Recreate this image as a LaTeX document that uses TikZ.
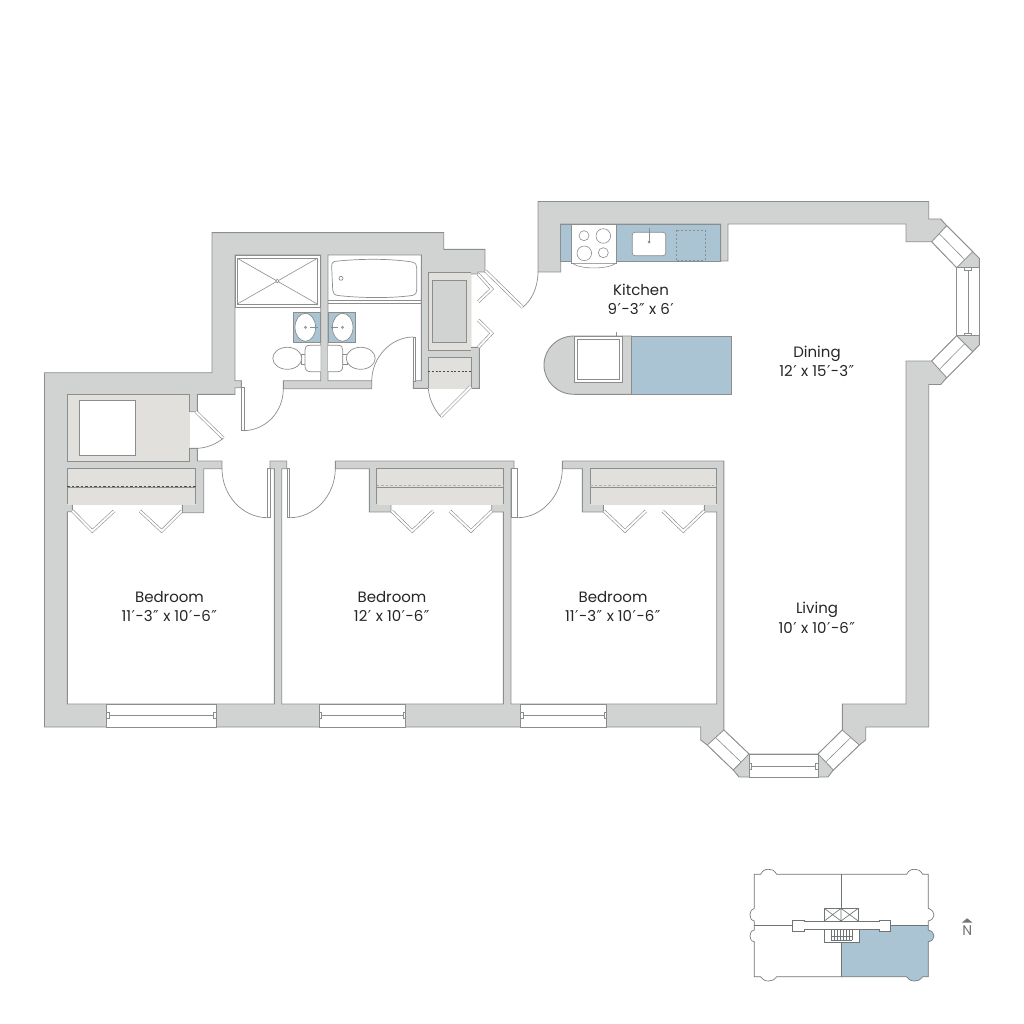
\documentclass[tikz,border=0pt]{standalone}
\usepackage{fontspec}
\setmainfont{Poppins}
\newfontfamily\primefont{DejaVu Sans}
\newcommand{\fta}{\kern0.5pt{\primefont\char"2032}\kern0.5pt}
\newcommand{\inc}{\kern0.5pt{\primefont\char"2033}\kern0.5pt}
\definecolor{wallc}{HTML}{D1D3D2}
\definecolor{linec}{HTML}{8C8E8D}
\definecolor{bluec}{HTML}{ABC4D3}
\definecolor{closetc}{HTML}{E1E0DC}
\definecolor{keyc}{HTML}{6F7475}
\tikzset{
 ln/.style={draw=linec,line width=0.9pt,line join=miter},
 thin ln/.style={draw=linec,line width=0.6pt},
 arcln/.style={draw=linec,line width=0.7pt},
 leaf/.style={draw=linec,double=white,double distance=2pt,line width=0.6pt},
 win/.style={fill=white,draw=linec,line width=0.8pt},
 fix/.style={fill=white,draw=linec,line width=0.7pt},
 keyln/.style={draw=keyc,line width=0.65pt},
 label/.style={font=\fontsize{15}{19.5}\selectfont,text=black!85,align=center,inner sep=0pt}
}
\def\outerp{(538,272) -- (538,201.5) -- (928.7,201.5) -- (928.7,219) -- (940.7,219) -- (946.7,225.7) -- (972.7,251.7) -- (979.3,258.3) -- (979.3,345) -- (972.7,351.7) -- (946.7,377.7) -- (940.7,384.5) -- (928.7,384.5) -- (928.7,727) -- (865.7,727) -- (865.7,740) -- (859.3,745) -- (833.3,770) -- (828,777) -- (739,777) -- (733.3,770) -- (707.3,745) -- (700.7,740) -- (700.7,727) -- (44.5,727) -- (44.5,372.7) -- (212,372.7) -- (212,232.7) -- (443.7,232.7) -- (443.7,249.3) -- (485,249.3) -- (485,272)}
\def\innerp{(538,272) -- (560.7,272) -- (560.7,224) -- (720.7,224) -- (720.7,261) -- (728,261) -- (728,224) -- (906,224) -- (906,241.7) -- (931.7,241.7) -- (956.7,267.7) -- (956.7,335.7) -- (931.7,361) -- (906,361) -- (906,704) -- (842.3,704) -- (842.3,730) -- (818,754) -- (749,754) -- (723.8,730) -- (723.8,461) -- (562.3,461) -- (562.3,468.7) -- (582.3,468.7) -- (582.3,512) -- (603.3,512) -- (603.3,504.3) -- (704.3,504.3) -- (704.3,512) -- (716.7,512) -- (716.7,704) -- (511,704) -- (511,468.7) -- (514,468.7) -- (514,461) -- (335.3,461) -- (335.3,468.7) -- (369.3,468.7) -- (369.3,512) -- (391,512) -- (391,504.3) -- (491.7,504.3) -- (491.7,512) -- (503.3,512) -- (503.3,704) -- (281.7,704) -- (281.7,468.7) -- (286.7,468.7) -- (286.7,461) -- (270,461) -- (270,468.7) -- (274.3,468.7) -- (274.3,704) -- (67.3,704) -- (67.3,511.7) -- (72.3,511.7) -- (72.3,504.3) -- (182.3,504.3) -- (182.3,512.7) -- (203.7,512.7) -- (203.7,468.7) -- (222,468.7) -- (222,461) -- (197.3,461) -- (197.3,448.3) -- (189.3,448.3) -- (189.3,411.7) -- (197.3,411.7) -- (197.3,394.3) -- (235,394.3) -- (235,387.7) -- (241.3,387.7) -- (241.3,380.7) -- (235,380.7) -- (235,255) -- (320.7,255) -- (320.7,380.7) -- (283.3,380.7) -- (283.3,388.7) -- (371.7,388.7) -- (371.7,380.7) -- (328,380.7) -- (328,255) -- (421.3,255) -- (421.3,380.7) -- (413.3,380.7) -- (413.3,388.3) -- (479.3,388.3) -- (479.3,347.3) -- (470.7,347.3) -- (470.7,274) -- (478,274) -- (478,272) -- (485,272)}
\def\keyp{(754.3,874.3) -- (760.7,874.3) .. controls (763,870) and (765,869.3) .. (768.7,869.3) .. controls (772,869.3) and (774,870) .. (776.7,874.3) -- (906.7,874.3) .. controls (909,870) and (911,869.3) .. (914.7,869.3) .. controls (918,869.3) and (920,870) .. (922.7,874.3) -- (928.3,874.3) -- (928.3,908.3) .. controls (932,910) and (934,912) .. (934,914.7) .. controls (934,918) and (932,920) .. (928.3,921) -- (928.3,930) .. controls (932,931) and (934,933) .. (934,936) .. controls (934,939) and (932,941) .. (928.3,941.7) -- (928.3,976.7) -- (922.7,976.7) .. controls (920,980) and (918,981) .. (914.7,981) .. controls (911,981) and (909,980) .. (906.7,976.7) -- (776.7,976.7) .. controls (774,980) and (772,981) .. (768.7,981) .. controls (765,981) and (763,980) .. (760.7,976.7) -- (754.3,976.7) -- (754.3,941.7) .. controls (751,941) and (750,939) .. (750,936) .. controls (750,933) and (751,931) .. (754.3,930) -- (754.3,921) .. controls (751,920) and (750,918) .. (750,914.7) .. controls (750,912) and (751,910) .. (754.3,908.3) -- cycle}
\begin{document}
\begin{tikzpicture}[x=1pt,y=-1pt]
\useasboundingbox (0,0) rectangle (1024,1024);
\fill[white] (0,0) rectangle (1024,1024);
% walls
\fill[wallc] \outerp -- cycle;
\fill[white] \innerp -- cycle;
\draw[ln] \outerp;
\draw[ln] \innerp;
% closets
\fill[closetc] (67.3,394.3) rectangle (189.8,461);
\draw[ln] (189.3,411.7) -- (189.3,394.3) -- (67.3,394.3) -- (67.3,461) -- (189.3,461) -- (189.3,448.3);
\draw[fix] (79.3,400.7) rectangle (135,455.7);
\fill[closetc] (67.3,468.7) rectangle (195.7,504.9);
\draw[ln] (67.3,504.3) -- (67.3,468.7) -- (195.7,468.7) -- (195.7,504.3);
\draw[draw=black!70,line width=0.8pt,dashed,dash pattern=on 2.5pt off 2pt] (67.3,486) -- (195.7,486);
\draw[thin ln] (67.3,487.7) -- (195.7,487.7);
\fill[closetc] (376.7,468.7) rectangle (503.3,504.9);
\draw[ln] (376.7,504.3) -- (376.7,468.7) -- (503.3,468.7) -- (503.3,504.3);
\draw[draw=linec!70,line width=0.5pt,dashed,dash pattern=on 2.5pt off 2pt] (376.7,485) -- (503.3,485);
\draw[thin ln] (376.7,487) -- (503.3,487);
\fill[closetc] (590,468.7) rectangle (716.7,504.9);
\draw[ln] (590,504.3) -- (590,468.7) -- (716.7,468.7) -- (716.7,504.3);
\draw[draw=linec!70,line width=0.5pt,dashed,dash pattern=on 2.5pt off 2pt] (590,485) -- (716.7,485);
\draw[thin ln] (590,487) -- (716.7,487);
\fill[closetc] (428.3,272.3) rectangle (471,350);
\draw[ln] (471,272.3) -- (428.3,272.3) -- (428.3,350) -- (471,350);
\fill[wallc,draw=linec,line width=0.8pt] (432.7,280) rectangle (466.7,342.3);
\fill[closetc] (428.3,357.7) rectangle (471.7,389);
\draw[ln] (428.3,388.3) -- (428.3,357.7) -- (471.7,357.7) -- (471.7,388.3);
\draw[draw=black!70,line width=0.6pt,dashed,dash pattern=on 2pt off 1.7pt] (428.3,371) -- (471.7,371);
% closet doors
\draw[leaf] (72.3,510.7) -- (92.3,531) -- (114,511);
\draw[leaf] (140,511) -- (161.7,531) -- (181.7,511);
\draw[leaf] (391.7,511) -- (412.3,531) -- (433.3,511);
\draw[leaf] (450,511) -- (471,531) -- (491.7,511);
\draw[leaf] (604,511) -- (625,531) -- (645.7,511);
\draw[leaf] (662.7,511) -- (683.3,531) -- (704.3,511);
\draw[leaf] (478.3,274.3) -- (491.7,289) -- (478.3,301.7);
\draw[leaf] (478.3,320) -- (491.7,333.3) -- (478.3,347.3);
% swing doors
\draw[leaf] (485.5,271) -- (522.7,307.3);
\draw[arcln] (522.7,307.3) .. controls (531,301) and (538,288) .. (538,272);
\draw[leaf] (470.7,386.7) -- (440.7,416.7);
\draw[arcln] (428.3,388.3) .. controls (429,399) and (434,409) .. (440.7,416.7);
\draw[leaf] (196,411.7) -- (223.3,438.3);
\draw[arcln] (223.3,438.3) .. controls (216,444) and (207,448) .. (197.3,448.3);
\draw[thin ln,fill=white] (241.7,387.7) rectangle (243.9,430.7);
\draw[arcln] (243.9,430.7) .. controls (266,430) and (283.3,412) .. (283.3,388.7);
\draw[thin ln,fill=white] (413.3,337) rectangle (415,381);
\draw[arcln] (413.3,337) .. controls (391,337) and (372,357) .. (371.7,381);
\draw[thin ln,fill=white] (267.7,468.7) rectangle (270.7,517.7);
\draw[arcln] (222,468.7) .. controls (222,495) and (242,517.7) .. (267.7,517.7);
\draw[thin ln,fill=white] (287.3,468.7) rectangle (289.7,517.7);
\draw[arcln] (335.3,468.7) .. controls (335.3,495) and (315,517.7) .. (289.7,517.7);
\draw[thin ln,fill=white] (511,468.7) rectangle (517.5,517.7);
\draw[arcln] (562.3,468.7) .. controls (562.3,495) and (542,517.7) .. (517.5,517.7);
% windows
\draw[win] (106.7,704) rectangle (216,727);
\draw[thin ln] (106.7,715) -- (216,715);
\draw[thin ln,fill=white] (106.7,712) rectangle (109,718) (213.6,712) rectangle (216,718);
\draw[win] (319.3,704) rectangle (405.3,727);
\draw[thin ln] (319.3,715) -- (405.3,715);
\draw[thin ln,fill=white] (319.3,712) rectangle (321.7,718) (403,712) rectangle (405.3,718);
\draw[win] (520.5,704) rectangle (606.5,727);
\draw[thin ln] (520.5,715) -- (606.5,715);
\draw[thin ln,fill=white] (520.5,712) rectangle (522.9,718) (604.1,712) rectangle (606.5,718);
\draw[win] (956.7,267.7) rectangle (979.3,335.7);
\draw[thin ln] (968,271) -- (968,332.5);
\draw[thin ln,fill=white] (964.5,267.7) rectangle (971.5,270.5) (964.5,332.9) rectangle (971.5,335.7);
\draw[win] (946.7,225.7) -- (972.7,251.7) -- (956.7,267.7) -- (931.7,241.7) -- cycle;
\draw[thin ln] (939.2,233.7) -- (964.7,259.7);
\draw[win] (956.7,335.7) -- (972.7,351.7) -- (946.7,377.7) -- (931.7,361) -- cycle;
\draw[thin ln] (964.7,343.7) -- (939.2,369.5);
\draw[win] (749,754) rectangle (818,777);
\draw[thin ln] (751,766.7) -- (816,766.7);
\draw[thin ln,fill=white] (749,763.5) rectangle (751.4,769.5) (815.6,763.5) rectangle (818,769.5);
\draw[win] (723.8,730) -- (749,754) -- (733.3,770) -- (707.3,745) -- cycle;
\draw[thin ln] (715.5,737.5) -- (741,762);
\draw[win] (842.3,730) -- (818,754) -- (833.3,770) -- (859.3,745) -- cycle;
\draw[thin ln] (850.8,737.5) -- (825.7,762);
% kitchen counter
\draw[ln,fill=bluec] (560.7,224) rectangle (720.7,261);
\draw[fix] (571.7,224) rectangle (616.7,263.3);
\draw[thin ln,fill=white] (572.5,263.3) .. controls (580,269.5) and (608,269.5) .. (616,263.3) -- cycle;
\draw[thin ln] (584,235.7) circle[radius=5];
\draw[thin ln] (603.3,236) circle[radius=7.3];
\draw[thin ln] (584.3,253.3) circle[radius=7.3];
\draw[thin ln] (603.3,252.7) circle[radius=5];
\draw[fix,rounded corners=2.5pt] (632.3,232.3) rectangle (665.7,255.7);
\draw[draw=linec,line width=1pt] (649,228) -- (649,241);
\fill[linec] (649,242) circle[radius=1.5];
\draw[draw=linec,line width=0.7pt,dashed,dash pattern=on 2pt off 2pt] (676,230) rectangle (705,260.7);
% island
\draw[ln,fill=wallc] (631.7,336) -- (574,336) .. controls (557,336) and (544,349) .. (544,365) .. controls (544,381) and (557,394.3) .. (574,394.3) -- (631.7,394.3) -- cycle;
\draw[ln,fill=bluec] (631.7,336) rectangle (731,394.3);
\draw[thin ln,fill=white] (574,336) rectangle (622.3,382.3);
\fill[wallc] (622.6,337) rectangle (631,381);
\draw[thin ln,fill=white] (577.3,339) rectangle (619.3,379);
\draw[thin ln] (616.7,332) -- (616.7,335.7);
% bath fixtures
\draw[fix] (235,255) rectangle (320.7,307.3);
\draw[fix] (237.3,258.3) rectangle (317.3,304);
\draw[thin ln] (237.3,258.3) -- (317.3,304) (317.3,258.3) -- (237.3,304);
\draw[fix] (277.3,281) circle[radius=1.7];
\draw[thin ln] (328,300.7) -- (421.3,300.7) (328,303) -- (421.3,303);
\draw[fix] (334,261.5) .. controls (360,258.5) and (390,258.5) .. (412,262) .. controls (416,263) and (416.7,265) .. (416.7,268) -- (416.7,290) .. controls (416.7,293) and (416,294.5) .. (412,295.5) .. controls (390,298.5) and (360,298) .. (338,295.5) .. controls (334,295) and (333,293) .. (332.7,290) -- (331.7,268) .. controls (331.7,264) and (332,262) .. (334,261.5) -- cycle;
\draw[fix] (341,278.3) circle[radius=2];
\draw[ln,fill=bluec] (293.3,312.3) rectangle (320.7,342.7);
\draw[ln,fill=bluec] (328,312.3) rectangle (355,342.7);
\draw[fix] (305.3,327.3) ellipse[x radius=10.3,y radius=14];
\draw[fix] (342.7,327.3) ellipse[x radius=10.3,y radius=14];
\draw[draw=linec,line width=1pt] (310,327.3) -- (318,327.3) (330.5,327.3) -- (338,327.3);
\draw[fix] (305.5,327.3) circle[radius=1];
\draw[fix] (342.5,327.3) circle[radius=1];
\draw[fix] (301,354) rectangle (306,364);
\draw[fix] (342,354) rectangle (347,364);
\draw[fix] (287.3,358.3) ellipse[x radius=14.5,y radius=11];
\draw[fix] (360.7,358.3) ellipse[x radius=14.5,y radius=11];
\draw[fix] (320.7,345.3) -- (310,345.3) .. controls (306,345.3) and (305,347) .. (305,350) -- (305,366) .. controls (305,370) and (307,371.7) .. (311,371.7) -- (320.7,371.7);
\draw[fix] (328,345.3) -- (338,345.3) .. controls (341.5,345.3) and (342.7,347) .. (342.7,350) -- (342.7,366) .. controls (342.7,370) and (341,371.7) .. (337,371.7) -- (328,371.7);
% key plan
\begin{scope}
\clip (841,925.7) rectangle (940,985);
\fill[bluec] \keyp;
\end{scope}
\draw[keyln] \keyp;
\draw[keyln] (841,874.3) -- (841,908.3) (841,942.7) -- (841,976.7);
\draw[keyln] (754.3,925.7) -- (792.7,925.7) (890,925.7) -- (928.3,925.7);
\draw[keyln,fill=white] (792.7,920) -- (804,920) -- (804,921.7) -- (879,921.7) -- (879,920) -- (890,920) -- (890,931) -- (879,931) -- (879,929) -- (804,929) -- (804,931) -- (792.7,931) -- cycle;
\draw[keyln,fill=white] (824.3,908.3) rectangle (858.3,921);
\draw[keyln] (824.3,908.3) -- (841,921) (841,908.3) -- (824.3,921) (841,908.3) -- (858.3,921) (858.3,908.3) -- (841,921) (841,908.3) -- (841,921);
\draw[keyln,fill=white] (824.3,929) rectangle (859,942.7);
\foreach \xx in {831,834,837,840,843,846,849,851.7} \draw[draw=keyc,line width=0.4pt] (\xx,929) -- (\xx,940);
\draw[draw=keyc,line width=0.4pt] (831,936) -- (851.7,936) (831,940) -- (851.7,940);
\fill[keyc] (961.7,922.7) -- (967.2,918.3) -- (972.5,922.7) -- cycle;
% labels
\node[label] (kitchen) at (641,299.5) {Kitchen\\9\fta-3\inc{} x 6\fta};
\node[label] (dining) at (817,361.5) {Dining\\12\fta{} x 15\fta-3\inc};
\node[label] (living) at (817,618) {Living\\10\fta{} x 10\fta-6\inc};
\node[label] (bed1) at (169.5,606.5) {Bedroom\\11\fta-3\inc{} x 10\fta-6\inc};
\node[label] (bed2) at (392,606.5) {Bedroom\\12\fta{} x 10\fta-6\inc};
\node[label] (bed3) at (613,606.5) {Bedroom\\11\fta-3\inc{} x 10\fta-6\inc};
\node[font=\fontsize{14}{14}\selectfont,text=keyc,inner sep=0pt] (north) at (967.2,930.7) {N};
\end{tikzpicture}
\end{document}
